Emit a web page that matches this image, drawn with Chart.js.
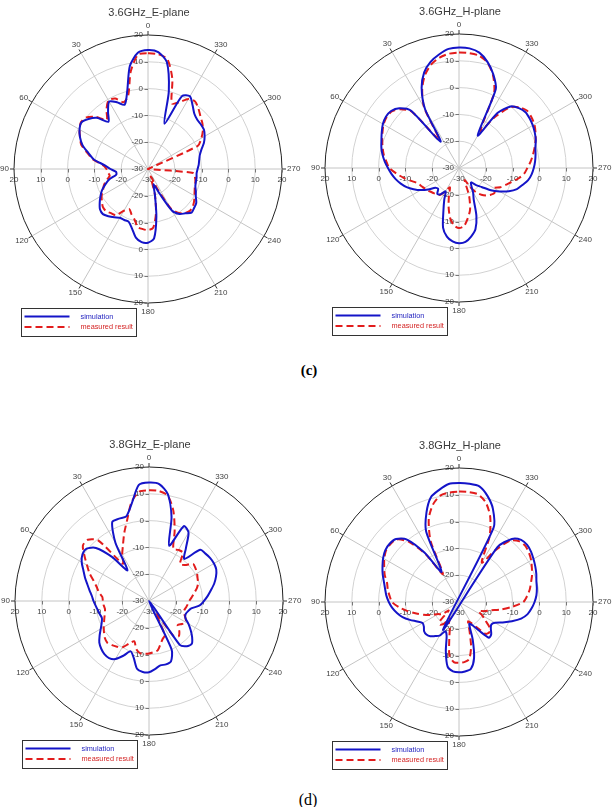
<!DOCTYPE html>
<html>
<head>
<meta charset="utf-8">
<script src="https://cdn.jsdelivr.net/npm/chart.js@4.4.1/dist/chart.umd.min.js"></script>
<style>
html,body{margin:0;padding:0;background:#fff;}
body{width:616px;height:807px;position:relative;overflow:hidden;}
canvas{position:absolute;}
.cap{position:absolute;width:40px;text-align:center;font-family:"Liberation Serif","Times New Roman",serif;color:#000;}
</style>
</head>
<body>
<canvas id="p1" width="308" height="345" style="left:0;top:0"></canvas>
<canvas id="p2" width="308" height="345" style="left:308px;top:0"></canvas>
<canvas id="p3" width="308" height="345" style="left:0;top:430px"></canvas>
<canvas id="p4" width="308" height="345" style="left:308px;top:430px"></canvas>
<div class="cap" style="left:289px;top:362px;font-size:15px;font-weight:bold">(c)</div>
<div class="cap" style="left:288px;top:791px;font-size:16px">(d)</div>
<script>
// ---- categories: angle in degrees (as labelled on the plots) ----
const angles = [0,5,10,15,20,25,30,35,40,45,50,55,60,65,70,75,80,85,90,95,100,105,110,115,
  120,125,130,135,140,145,150,155,160,165,170,175,180,185,190,195,200,205,210,215,220,225,230,235,
  240,245,250,255,260,265,270,275,280,285,290,295,300,305,310,315,320,325,330,335,340,345,350,355];
const tickValues = [-30,-20,-10,0,10,20];
const seriesNames = ['simulation','measured result'];
const titles = ['3.6GHz_E-plane','3.6GHz_H-plane','3.8GHz_E-plane','3.8GHz_H-plane'];

// ---- series values (dB), same order as angles ----
const sim36E = [14.4,13.5,9,0,-4.5,-2.5,-1,-4,-7,-3,-1,0.3,
  -0.5,-2,-4,-7,-9.5,-13.7,-16,-18,-18,-15,-13,-11,
  -9.5,-8,-6.6,-6.2,-7,-8,-9,-9,-9,-7,-4,-2.6,
  -2.5,-4,-12,-20,-24,-20,-12,-9.5,-8.4,-7,-7.5,-8,
  -9.4,-10.3,-11.2,-11.5,-11.6,-11.8,-11.5,-11,-10.6,-10,-8.8,-7,
  -5.6,-4.5,-4.2,-4,-3.1,-1,1.3,0,-12,0,10.5,13.8];
const meas36E = [13.2,12.8,7,-1.5,-3.5,-1,-0.5,-3,-6,-2.5,0,0.5,
  -0.5,-2,-3.5,-6.5,-9,-13,-14.5,-15,-15.5,-14,-12.5,-11.5,
  -10,-9,-8,-7.8,-8.5,-9,-12,-13.5,-12,-10.5,-8,-7.5,
  -7.2,-8,-13,-20,-27,-22,-13,-10,-8.5,-7.9,-8.2,-9,
  -10,-10.8,-11.4,-11.7,-12.2,-13,-30,-30,-30,-30,-30,-9.5,
  -7,-5,-3.5,-2.3,-0.7,0.7,0.2,-2.5,-4,5,11.6,13];
const sim36H = [15,14.6,13,11,8,3,-4.7,-18,-2,1.5,3.1,3.3,
  2.8,1.8,0.8,0,-1,-2.2,-3.5,-4.7,-6,-7.5,-9.2,-11.3,
  -13.5,-16,-18.5,-19,-17.4,-18,-20,-17,-13,-7,-4,-2.5,
  -1.9,-2.3,-4,-6.3,-11,-17,-19.5,-22,-23,-21,-19,-15.5,
  -12.5,-9.5,-7,-5.5,-3.8,-2.8,-2.1,-1.5,-1,-0.5,0.5,1.2,
  1.8,2.2,2.4,1.6,0,-5,-16,2.5,7.3,11,13.7,14.8];
const meas36H = [13.1,12.8,11.8,10,7,2.5,-4,-17,-2.5,1,2.8,3,
  2.5,1.5,0.5,-0.5,-1.5,-2.8,-4,-6.5,-9,-11.5,-13.5,-14.3,
  -15,-15.5,-16.2,-16.7,-17.1,-17.8,-20,-22,-19,-15,-11,-8.5,
  -7.6,-8.3,-11,-14,-19,-25,-22,-19,-17,-15.5,-14.5,-13.8,
  -15,-13,-11.5,-9.8,-7.5,-5.6,-4.5,-3.2,-2,-0.8,0.4,1.5,
  2.5,3,3.2,2,-0.5,-7,-14,1,7,10.8,12.6,13];
const sim38E = [14.2,13.5,7,2.7,2.7,2.5,-5,-16,-8.5,-2,0.4,0.3,
  -1,-3,-4.6,-6.2,-7.5,-8.6,-9.3,-10,-10.6,-11,-11.3,-10.5,
  -9.2,-7.5,-5.8,-4.8,-4.1,-4,-5,-7.5,-10,-8,-4.3,-3.4,
  -3.4,-4.5,-5.6,-5.5,-6,-10,-30,-10,-8,-7.4,-9,-11,
  -13,-15,-15.5,-15,-14,-11,-9.5,-8,-6.5,-4.8,-3.4,-2.3,
  -2,-2.1,-2.5,-3,-9.5,-6,-0.5,0.8,-8,2.5,10.5,13.8];
const meas38E = [11.3,11,7.5,1.4,-3,-7,-10,-13,-0.5,2.3,2.2,-0.6,
  -3.3,-5.5,-8,-9.8,-11,-12.5,-12.8,-13,-13.3,-13,-12.3,-11.5,
  -10.5,-9.5,-8.5,-8,-8.5,-9.2,-10,-12.5,-14,-11.5,-10.3,-10.2,
  -10.4,-10.8,-11.3,-13.4,-15,-16,-25,-14,-12.8,-14,-16,-15,
  -14.1,-15,-16,-16.4,-16,-15.5,-15,-14,-12.9,-11.5,-10.5,-10,
  -9.3,-8.8,-8.5,-11,-12,-8,-8,-8.5,-2,5,10,11.2];
const sim38H = [14.4,14.2,12.5,10.5,5.5,-1,-17,-7.5,0.5,3.2,3.8,3.6,
  2.7,1.5,0.3,-1,-2,-2.8,-3.8,-5,-6.5,-8.2,-10.5,-12.8,
  -14.3,-14,-13,-12.8,-13.3,-14.5,-15.5,-18,-16.5,-11,-5.5,-4,
  -3.75,-4,-4.6,-8.3,-15,-21,-20,-17,-12.6,-13,-14.5,-15.3,
  -14.5,-12,-9,-6,-4,-2.8,-1.8,-1,-0.5,-0.1,0.7,1.4,
  2.1,2.8,3.2,2.8,0.7,-5,-42,0.5,7,11,13.8,14.3];
const meas38H = [11.2,11,10.3,7.6,3,-5,-18,-8,-0.5,3,3.5,3.3,
  2.2,0.8,-0.5,-2.2,-3,-4,-5,-7.5,-10.5,-13.5,-16,-18.5,
  -21,-22,-25,-20,-19,-20,-23,-21,-20,-16,-9.5,-7.5,
  -7.3,-7.5,-8.3,-12.6,-18.5,-22,-21,-18.5,-14.5,-14,-15,-18,
  -20,-22,-20,-18,-14,-10,-6,-4.5,-3.2,-2.2,-1,0,
  1.1,1.9,2.4,2,0,-6.5,-13,-3,4,8.5,10.8,11.2];

// radar charts run clockwise from the top; the plotted angles run counter-clockwise
function cw(arr){ return arr.map((_, i) => arr[(arr.length - i) % arr.length]); }

const FONT = '"Liberation Sans", Arial, sans-serif';
const BLUE = '#1414c8';
const RED = '#e21c1c';

const decor = {
  id: 'polarDecor',
  beforeDatasetsDraw(chart) {
    const s = chart.scales.r, ctx = chart.ctx;
    const cx = s.xCenter, cy = s.yCenter, R = s.drawingArea;
    ctx.save();
    // outer tick marks on the spokes
    ctx.strokeStyle = '#333'; ctx.lineWidth = 1;
    chart.data.labels.forEach((lab, i) => {
      if (lab % 30 !== 0) return;
      const a = s.getPointPosition(i, R), b = s.getPointPosition(i, R + 4);
      ctx.beginPath(); ctx.moveTo(a.x, a.y); ctx.lineTo(b.x, b.y); ctx.stroke();
    });
    // axis tick marks
    ctx.strokeStyle = '#777';
    tickValues.forEach(v => {
      const d = s.getDistanceFromCenterForValue(v);
      if (d <= 0) return;
      [-1, 1].forEach(sg => {
        ctx.beginPath(); ctx.moveTo(cx - 3.5, Math.round(cy + sg * d) + 0.5); ctx.lineTo(cx, Math.round(cy + sg * d) + 0.5); ctx.stroke();
        ctx.beginPath(); ctx.moveTo(Math.round(cx + sg * d) + 0.5, cy); ctx.lineTo(Math.round(cx + sg * d) + 0.5, cy + 3.5); ctx.stroke();
      });
    });
    // axis tick labels
    ctx.fillStyle = '#444';
    ctx.font = '8px ' + FONT;
    tickValues.forEach(v => {
      const d = s.getDistanceFromCenterForValue(v);
      const t = String(v);
      ctx.textAlign = 'right'; ctx.textBaseline = 'middle';
      ctx.fillText(t, cx - 5, cy - d);
      if (d > 0) ctx.fillText(t, cx - 5, cy + d);
      ctx.textAlign = 'center'; ctx.textBaseline = 'middle';
      ctx.fillText(t, cx - d, cy + 11);
      if (d > 0) ctx.fillText(t, cx + d, cy + 11);
    });
    ctx.restore();
  },
  afterDraw(chart, args, opts) {
    const s = chart.scales.r, ctx = chart.ctx;
    const cx = s.xCenter, cy = s.yCenter, R = s.drawingArea;
    ctx.save();
    // angle labels
    ctx.fillStyle = '#444';
    ctx.font = '8px ' + FONT;
    ctx.textAlign = 'center'; ctx.textBaseline = 'middle';
    chart.data.labels.forEach((lab, i) => {
      if (lab % 30 !== 0) return;
      const p = s.getPointPosition(i, R);
      const ux = (p.x - cx) / R, uy = (p.y - cy) / R;
      const w = ctx.measureText(String(lab)).width, h = 8;
      const off = 5;
      const x = cx + ux * (R + off) + ux * w / 2;
      const y = cy + uy * (R + off) + uy * h / 2;
      ctx.fillText(String(lab), x, y);
    });
    // title
    ctx.fillStyle = '#3a3a3a';
    ctx.font = '11px ' + FONT;
    ctx.fillText(opts.title, cx + 1, cy - R - 22);
    // legend box
    const lx = cx - 126.5, ly = cy + 139.5;
    ctx.fillStyle = '#fff';
    ctx.fillRect(lx, ly, 115, 28);
    ctx.strokeStyle = '#333'; ctx.lineWidth = 1;
    ctx.strokeRect(lx, ly, 115, 28);
    chart.data.datasets.forEach((ds, k) => {
      const yy = ly + 8 + k * 10.5;
      ctx.beginPath();
      ctx.strokeStyle = ds.borderColor; ctx.lineWidth = 2;
      ctx.setLineDash(ds.borderDash || []);
      ctx.moveTo(lx + 3, yy); ctx.lineTo(lx + 48, yy); ctx.stroke();
      ctx.setLineDash([]);
      ctx.fillStyle = k === 0 ? '#2525c0' : '#d42424';
      ctx.font = '7.3px ' + FONT;
      ctx.textAlign = 'left';
      ctx.fillText(ds.label, lx + 59, yy);
    });
    ctx.restore();
  }
};

function makePanel(id, title, sim, meas, pad) {
  new Chart(document.getElementById(id), {
    type: 'radar',
    data: {
      labels: cw(angles),
      datasets: [
        { label: seriesNames[0], data: cw(sim), borderColor: BLUE, borderWidth: 2, fill: false,
          pointRadius: 0, tension: 0.25, borderJoinStyle: 'round' },
        { label: seriesNames[1], data: cw(meas), borderColor: RED, borderWidth: 2, fill: false,
          pointRadius: 0, tension: 0.25, borderDash: [7, 4], borderJoinStyle: 'round' }
      ]
    },
    options: {
      responsive: false,
      animation: false,
      events: [],
      layout: { padding: pad },
      plugins: { legend: { display: false }, title: { display: false }, tooltip: { enabled: false },
        polarDecor: { title } },
      scales: {
        r: {
          min: -30, max: 20,
          ticks: { display: false, stepSize: 10 },
          pointLabels: { display: false },
          grid: { circular: true,
            color: c => (c.tick && c.tick.value === 20) ? '#222' : '#d2d2d2', lineWidth: 1 },
          angleLines: { display: true,
            color: c => (c.index % 6 === 0) ? '#c4c4c4' : 'rgba(0,0,0,0)',
            lineWidth: c => (c.index % 6 === 0) ? 1 : 0 }
        }
      }
    },
    plugins: [decor]
  });
}

makePanel('p1', titles[0], sim36E, meas36E, { left: 14, top: 35, right: 26, bottom: 42 });
makePanel('p2', titles[1], sim36H, meas36H, { left: 17, top: 34, right: 23, bottom: 43 });
makePanel('p3', titles[2], sim38E, meas38E, { left: 15, top: 37, right: 25, bottom: 40 });
makePanel('p4', titles[3], sim38H, meas38H, { left: 17, top: 38, right: 23, bottom: 39 });
</script>
</body>
</html>
